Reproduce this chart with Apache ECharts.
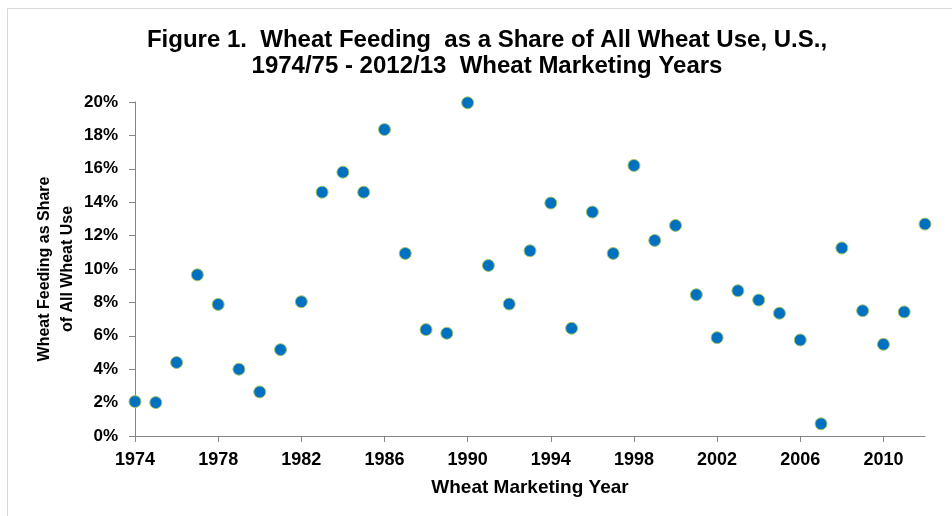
<!DOCTYPE html>
<html>
<head>
<meta charset="utf-8">
<script src="https://cdn.jsdelivr.net/npm/echarts@6/dist/echarts.min.js"></script>
<style>html,body{margin:0;padding:0;background:#fff}#c{width:952px;height:516px}</style>
</head>
<body>
<div id="c"></div>
<script>
var years = [1974,1975,1976,1977,1978,1979,1980,1981,1982,1983,1984,1985,1986,1987,1988,1989,1990,1991,1992,1993,1994,1995,1996,1997,1998,1999,2000,2001,2002,2003,2004,2005,2006,2007,2008,2009,2010,2011,2012];
var sharePct = [2.06,2.0,4.4,9.65,7.88,4.0,2.64,5.17,8.04,14.6,15.8,14.6,18.35,10.93,6.37,6.15,19.95,10.21,7.9,11.09,13.95,6.45,13.41,10.93,16.2,11.71,12.61,8.46,5.89,8.7,8.14,7.35,5.75,0.73,11.26,7.5,5.49,7.43,12.69];
var xTickLabels = [1974,1978,1982,1986,1990,1994,1998,2002,2006,2010];
var yTickLabels = ['0%','2%','4%','6%','8%','10%','12%','14%','16%','18%','20%'];

var chart = echarts.init(document.getElementById('c'), null, {renderer:'canvas'});
var font = 'Liberation Sans, Arial, sans-serif';
var pts = years.map(function(y,i){return [y, sharePct[i]];});
chart.setOption({
  animation:false,
  backgroundColor:'#fff',
  title:{
    text:'Figure 1.  Wheat Feeding  as a Share of All Wheat Use, U.S.,\n1974/75 - 2012/13  Wheat Marketing Years',
    left:482, top:22, textAlign:'center',
    textStyle:{fontFamily:font, fontWeight:'bold', fontSize:24, color:'#000', lineHeight:26}
  },
  graphic:[{
    type:'rect', shape:{x:7.5,y:8.5,width:960,height:520},
    style:{fill:'none', stroke:'#d9d9d9', lineWidth:1}, silent:true
  }],
  grid:{left:135, right:27, top:102, bottom:80},
  xAxis:{
    type:'value', min:1974, max:2012, interval:4,
    name:'Wheat Marketing Year', nameLocation:'middle', nameGap:42, nameMoveOverlap:false,
    nameTextStyle:{fontFamily:font, fontWeight:'bold', fontSize:19, color:'#000'},
    axisLine:{show:true, lineStyle:{color:'#868686', width:1}},
    axisTick:{show:true, inside:false, length:6, lineStyle:{color:'#868686'}, customValues:xTickLabels},
    axisLabel:{fontFamily:font, fontWeight:'bold', fontSize:18, color:'#000', margin:15, customValues:xTickLabels,
      formatter:function(v){return String(v);}},
    splitLine:{show:false}
  },
  yAxis:{
    type:'value', min:0, max:20, interval:2,
    name:'Wheat Feeding as Share\nof All Wheat Use', nameLocation:'middle', nameGap:56, nameRotate:90, nameMoveOverlap:false,
    nameTextStyle:{fontFamily:font, fontWeight:'bold', fontSize:16, color:'#000', lineHeight:23, align:'center'},
    axisLine:{show:true, lineStyle:{color:'#868686', width:1}},
    axisTick:{show:true, inside:false, length:6, lineStyle:{color:'#868686'}},
    axisLabel:{fontFamily:font, fontWeight:'bold', fontSize:17, color:'#000', margin:17,
      formatter:function(v){return yTickLabels[Math.round(v/2)];}},
    splitLine:{show:false}
  },
  series:[{
    type:'scatter', data:pts, symbol:'circle', symbolSize:12,
    itemStyle:{color:'#0070C0', borderColor:'#A9C76A', borderWidth:1, opacity:1}
  }]
});
</script>
</body>
</html>
